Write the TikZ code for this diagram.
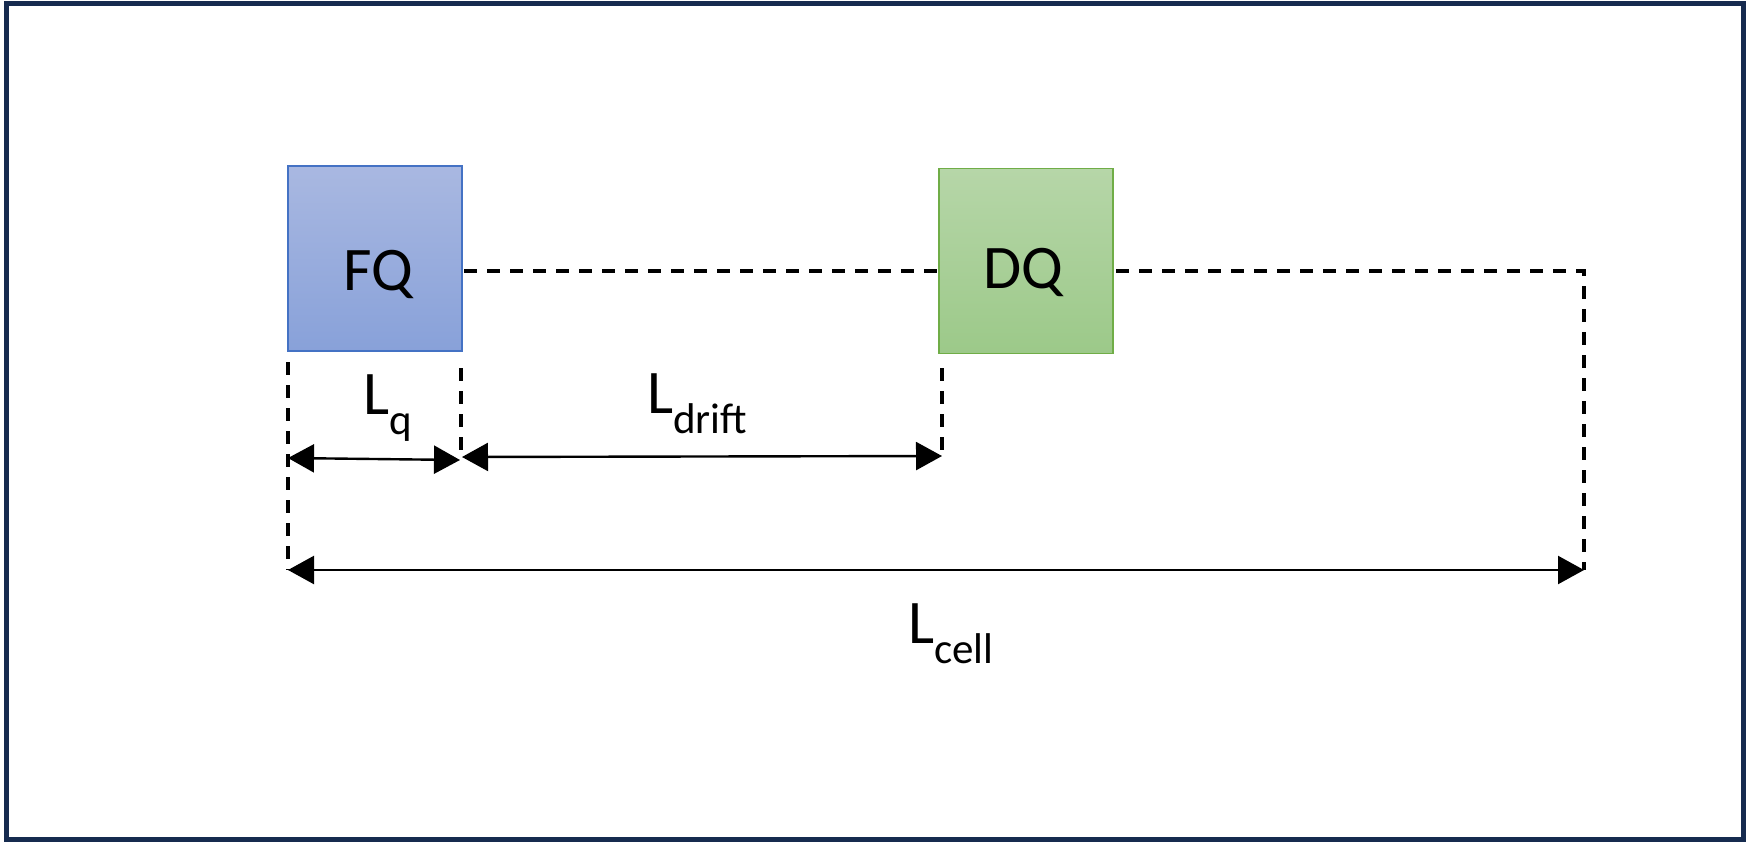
\documentclass[tikz,border=0pt]{standalone}
\usepackage{fontspec}
\setmainfont{Carlito}
\usetikzlibrary{arrows.meta}
\definecolor{framecol}{RGB}{22,43,79}
\definecolor{fqtop}{RGB}{169,184,225}
\definecolor{fqbot}{RGB}{136,161,217}
\definecolor{fqline}{RGB}{68,114,196}
\definecolor{dqtop}{RGB}{182,214,168}
\definecolor{dqbot}{RGB}{156,201,137}
\definecolor{dqline}{RGB}{112,173,71}
\newcommand{\sublab}[2]{#1\raisebox{-20pt}{\fontsize{43}{48}\selectfont #2}}
\begin{document}
\begin{tikzpicture}[x=1pt,y=-1pt,
  quadbox/.style={draw, line width=1.8pt, minimum width=174pt, minimum height=185pt, inner sep=0pt},
  bigtext/.style={font=\fontsize{62}{70}\selectfont, inner sep=0pt, anchor=base west},
  dashline/.style={line width=3.1pt, dash pattern=on 13pt off 10pt},
  dimline/.style={line width=2.4pt, {Triangle[length=26pt,width=28pt]}-{Triangle[length=26pt,width=28pt]}}
]
\useasboundingbox (0,0) rectangle (1750,843);
\draw[framecol, line width=5.5pt] (6.5,3.5) rectangle (1743.5,839.5);

\node[quadbox, draw=fqline, top color=fqtop, bottom color=fqbot] (FQ) at (375,258.5) {};
\node[quadbox, draw=dqline, top color=dqtop, bottom color=dqbot] (DQ) at (1026,261) {};
\node[bigtext] (FQt) at (343,290) {FQ};
\node[bigtext] (DQt) at (983,288) {DQ};

\coordinate (lineA) at (464,271);
\coordinate (lineB) at (937,271);
\coordinate (lineC) at (1116,271);
\coordinate (corner) at (1584,271);
\coordinate (cellR) at (1584,570);
\coordinate (cellL) at (288,570);
\coordinate (vA) at (288,362);
\coordinate (vB1) at (461,368);
\coordinate (vB2) at (461,458);
\coordinate (vC1) at (942,368);
\coordinate (vC2) at (942,456);
\coordinate (qL) at (288,458);
\coordinate (qR) at (460,460);
\coordinate (dL) at (462,457);

\draw[dashline] (lineA) -- (lineB);
\draw[dashline] (lineC) -- (corner) -- (cellR);
\draw[dashline] (vA) -- (cellL);
\draw[dashline] (vB1) -- (vB2);
\draw[dashline] (vC1) -- (vC2);

\draw[dimline] (qL) -- (qR);
\draw[dimline] (dL) -- (vC2);
\draw[dimline] (cellL) -- (cellR);

\node[bigtext] (Lq) at (363,414) {\sublab{L}{q}};
\node[bigtext] (Ld) at (647,413) {\sublab{L}{drift}};
\node[bigtext] (Lc) at (908,643) {\sublab{L}{cell}};
\end{tikzpicture}
\end{document}
